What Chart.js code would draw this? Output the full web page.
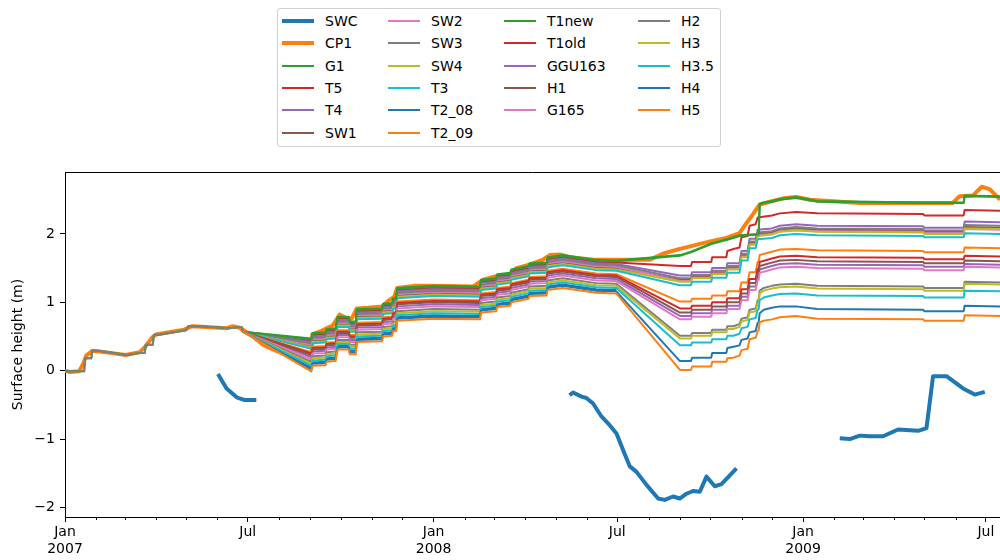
<!DOCTYPE html>
<html><head><meta charset="utf-8">
<script src="https://cdn.jsdelivr.net/npm/chart.js@4.4.1/dist/chart.umd.min.js"></script>
<style>
html,body{margin:0;padding:0;background:#fff;}
#wrap{position:relative;width:1000px;height:560px;overflow:hidden;}
#c{position:absolute;left:0;top:0;}
#legend{position:absolute;left:277px;top:8px;width:444px;height:139px;border:1px solid #d0d0d0;border-radius:3px;box-sizing:border-box;background:#fff;font-family:'DejaVu Sans';font-size:14px;color:#000;}
.item{position:absolute;height:20px;display:flex;align-items:center;white-space:nowrap;}
.item .h{display:inline-block;width:32px;margin-right:11px;}
</style></head>
<body><div id="wrap"><canvas id="c" width="1000" height="560"></canvas><div id="legend"></div></div>
<script>
// ---- labels / ticks ----
const seriesNames = ['SWC','CP1','G1','T5','T4','SW1','SW2','SW3','SW4','T3','T2_08','T2_09','T1new','T1old','GGU163','H1','G165','H2','H3','H3.5','H4','H5'];
const palette = ['#1f77b4','#ff7f0e','#2ca02c','#d62728','#9467bd','#8c564b','#e377c2','#7f7f7f','#bcbd22','#17becf'];
const xTickDays = [0,181,365,547,731,912];           // days since 2007-01-01
const xTickLabels = [['Jan','2007'],['Jul'],['Jan','2008'],['Jul'],['Jan','2009'],['Jul']];
const minorTickDays = [31,59,90,120,151,212,243,273,304,334,396,425,456,486,517,578,609,639,670,700,762,790,821,851,882];
const yTicks = [-2,-1,0,1,2];

// ---- SWC (thick blue) ----
const swcDays = [151.5,160,170,178,189.5, 340, 499.7,503.2,511.5,516.4,523,531.3,537.8,546.2,552.7,559.4,566,575.9,587.4,594,602.2,608.9,615.5,622,628.7,635.3,643.5,650.2,665, 715, 767.3,777.2,787.1,797,810.2,825,844.9,853.2,859.7,873,889.4,901,910.9];
const swcValues = [-0.05,-0.26,-0.39,-0.43,-0.43, null, -0.36,-0.32,-0.38,-0.40,-0.48,-0.67,-0.77,-0.92,-1.16,-1.40,-1.48,-1.67,-1.87,-1.89,-1.84,-1.87,-1.80,-1.76,-1.77,-1.55,-1.69,-1.66,-1.43, null, -0.99,-1.00,-0.95,-0.96,-0.96,-0.86,-0.88,-0.84,-0.08,-0.08,-0.26,-0.35,-0.31];

// ---- CP1 (thick orange) ----
const cp1Days = [0,5,14,18,21,27,45,60,74,80,86,90,106,118,126,140,160,166,172,176,186,196,203,219,232,244,245,252,259,265,272,278,284,289,300,314,320,326,329,345,365,404,414,427,440,447,460,473,480,490,500,526,546,579,592,606,625,639,655,668,675,682,688,698,711,724,738,787,847,879,886,899,908,916,926];
const cp1Values = [0.00,-0.02,-0.01,0.10,0.22,0.29,0.26,0.23,0.27,0.36,0.48,0.53,0.57,0.60,0.65,0.64,0.62,0.65,0.63,0.60,0.50,0.38,0.33,0.23,0.16,0.04,0.53,0.57,0.62,0.66,0.82,0.77,0.76,0.91,0.92,0.94,1.02,1.08,1.21,1.24,1.24,1.23,1.33,1.38,1.40,1.50,1.55,1.62,1.69,1.70,1.66,1.62,1.62,1.62,1.71,1.77,1.84,1.89,1.94,2.01,2.16,2.30,2.43,2.47,2.52,2.54,2.50,2.45,2.45,2.45,2.55,2.56,2.69,2.65,2.50];

// ---- stake series: shared day axis (full series start at day 0, others at day 176) ----
const stepDays = [0,19,20,26,27,34,61,74,79,80,87,88,94,120,122,133,163,173,175,
 176,244,
 245,258,259,268,270,281,282,288,289,314,315,324,325,328,329,365,411,412,427,428,441,442,459,460,477,478,493,526,546,
 609,620,621,640,641,655,656,662,668,670,676,678,684,686,687,688,692,700,708,724,745,850,851,890,891,926];

const G1 = [-0.01,-0.01,0.18,0.18,0.29,0.29,0.23,0.26,0.26,0.38,0.38,0.52,0.53,0.59,0.65,0.65,0.62,0.64,0.64,
 0.57,0.47,
 0.55,0.56,0.61,0.62,0.79,0.79,0.72,0.72,0.90,0.91,0.98,0.99,1.06,1.06,1.21,1.24,1.23,1.33,1.35,1.41,1.43,1.48,1.53,1.57,1.58,1.66,1.69,1.62,1.61,
 1.69,1.74,null,1.86,null,1.92,null,1.95,1.98,null,null,null,null,null,2.00,2.44,2.46,2.48,2.51,2.54,2.48,2.46,null,2.46,2.56,2.55];
const T5 = [0.57,0.44,
 0.52,0.53,0.58,0.59,0.76,0.76,0.69,0.69,0.87,0.88,0.95,0.96,1.03,1.03,1.18,1.21,1.20,1.30,1.32,1.38,1.40,1.45,1.50,1.54,1.55,1.63,1.66,1.59,1.58,
 1.53,1.53,1.59,1.59,1.66,1.66,1.75,1.78,1.80,1.95,1.97,2.12,2.14,2.24,null,null,null,2.27,2.30,2.32,2.30,2.29,2.27,2.27,2.35,2.34];
const T4 = [0.57,0.42,
 0.50,0.51,0.56,0.57,0.74,0.74,0.67,0.67,0.85,0.86,0.93,0.94,1.01,1.01,1.16,1.19,1.18,1.28,1.30,1.36,1.38,1.43,1.48,1.52,1.53,1.61,1.64,1.57,1.56,
 1.39,1.39,1.44,1.44,1.50,1.50,1.57,1.57,1.57,1.75,1.75,1.93,1.93,2.06,null,null,null,2.08,2.12,2.14,2.12,2.11,2.09,2.09,2.18,2.17];
const SW1 = [0.57,0.36,
 0.44,0.45,0.50,0.51,0.68,0.68,0.61,0.61,0.79,0.80,0.87,0.88,0.95,0.95,1.10,1.13,1.12,1.22,1.24,1.30,1.32,1.37,1.42,1.46,1.47,1.55,1.58,1.51,1.50,
 1.33,1.33,1.38,1.38,1.44,1.44,1.51,1.51,1.51,1.69,1.69,1.87,1.87,2.00,null,null,null,2.02,2.06,2.08,2.06,2.05,2.03,2.03,2.10,2.09];
const SW2 = [0.57,0.38,
 0.46,0.47,0.52,0.53,0.70,0.70,0.63,0.63,0.81,0.82,0.89,0.90,0.97,0.97,1.12,1.15,1.14,1.24,1.26,1.32,1.34,1.39,1.44,1.48,1.49,1.57,1.60,1.53,1.52,
 1.31,1.31,1.36,1.36,1.42,1.42,1.49,1.49,1.49,1.67,1.67,1.85,1.85,1.98,null,null,null,2.00,2.04,2.06,2.04,2.03,2.01,2.01,2.07,2.06];
const SW3 = [0.57,0.40,
 0.48,0.49,0.54,0.55,0.72,0.72,0.65,0.65,0.83,0.84,0.91,0.92,0.99,0.99,1.14,1.17,1.16,1.26,1.28,1.34,1.36,1.41,1.46,1.50,1.51,1.59,1.62,1.55,1.54,
 1.35,1.35,1.40,1.40,1.46,1.46,1.53,1.53,1.53,1.71,1.71,1.89,1.89,2.02,null,null,null,2.04,2.08,2.10,2.08,2.07,2.05,2.05,2.13,2.12];
const SW4 = [0.57,0.34,
 0.42,0.43,0.48,0.49,0.66,0.66,0.59,0.59,0.77,0.78,0.85,0.86,0.93,0.93,1.08,1.11,1.10,1.20,1.22,1.28,1.30,1.35,1.40,1.44,1.45,1.53,1.56,1.49,1.48,
 1.30,1.30,1.35,1.35,1.41,1.41,1.48,1.48,1.48,1.66,1.66,1.84,1.84,1.97,null,null,null,1.99,2.03,2.05,2.03,2.02,2.00,2.00,2.08,2.07];
const T3 = [0.57,0.32,
 0.40,0.41,0.46,0.47,0.64,0.64,0.57,0.57,0.75,0.76,0.83,0.84,0.91,0.91,1.06,1.09,1.08,1.18,1.20,1.26,1.28,1.33,1.38,1.42,1.43,1.51,1.54,1.47,1.46,
 1.25,1.25,1.30,1.30,1.36,1.36,1.43,1.43,1.43,1.61,1.61,1.79,1.79,1.92,null,null,null,1.94,1.98,2.00,1.98,1.97,1.95,1.95,2.01,2.00];
const T2_08 = [0.57,0.04,
 0.12,0.13,0.18,0.19,0.36,0.36,0.29,0.29,0.47,0.48,0.55,0.56,0.63,0.63,0.78,0.81,0.80,0.90,0.92,0.98,1.00,1.05,1.10,1.14,1.15,1.23,1.26,1.19,1.18];
const T2_09 = [0.57,0.27,
 0.35,0.36,0.41,0.42,0.59,0.59,0.52,0.52,0.70,0.71,0.78,0.79,0.86,0.86,1.01,1.04,1.03,1.13,1.15,1.21,1.23,1.28,1.33,1.37,1.38,1.46,1.49,1.42,1.41,
 1.01,1.01,1.05,1.05,1.10,1.10,1.16,1.16,1.16,1.29,1.29,1.44,1.44,1.59,1.59,1.69,null,1.74,1.77,1.78,1.76,1.75,1.73,1.73,1.80,1.79];
const T1new = [0.57,0.46,
 0.54,0.55,0.60,0.61,0.78,0.78,0.71,0.71,0.89,0.90,0.97,0.98,1.05,1.05,1.20,1.23,1.22,1.32,1.34,1.40,1.42,1.47,1.52,1.56,1.57,1.65,1.68,1.61,1.60,
 1.68,1.73,null,1.85,null,1.91,null,1.94,1.97,null,null,null,null,null,1.99,2.43,2.45,2.47,2.50,2.53,2.47,2.45,null,2.45,2.55,2.54];
const T1old = [0.57,0.25,
 0.33,0.34,0.39,0.40,0.57,0.57,0.50,0.50,0.68,0.69,0.76,0.77,0.84,0.84,0.99,1.02,1.01,1.11,1.13,1.19,1.21,1.26,1.31,1.35,1.36,1.44,1.47,1.40,1.39,
 0.91,0.91,0.95,0.95,1.00,1.00,1.06,1.06,1.06,1.19,1.19,1.34,1.34,1.49,1.49,1.59,null,1.64,1.67,1.68,1.66,1.65,1.63,1.63,1.68,1.67];
const GGU163 = [0.57,0.20,
 0.28,0.29,0.34,0.35,0.52,0.52,0.45,0.45,0.63,0.64,0.71,0.72,0.79,0.79,0.94,0.97,0.96,1.06,1.08,1.14,1.16,1.21,1.26,1.30,1.31,1.39,1.42,1.35,1.34,
 0.80,0.80,0.84,0.84,0.89,0.89,0.95,0.95,0.95,1.08,1.08,1.23,1.23,1.38,1.38,1.48,null,1.53,1.56,1.57,1.55,1.54,1.52,1.52,1.56,1.55];
const H1 = [0.57,0.23,
 0.31,0.32,0.37,0.38,0.55,0.55,0.48,0.48,0.66,0.67,0.74,0.75,0.82,0.82,0.97,1.00,0.99,1.09,1.11,1.17,1.19,1.24,1.29,1.33,1.34,1.42,1.45,1.38,1.37,
 0.85,0.85,0.89,0.89,0.94,0.94,1.00,1.00,1.00,1.13,1.13,1.28,1.28,1.43,1.43,1.53,null,1.58,1.61,1.62,1.60,1.59,1.57,1.57,1.61,1.60];
const G165 = [0.57,0.17,
 0.25,0.26,0.31,0.32,0.49,0.49,0.42,0.42,0.60,0.61,0.68,0.69,0.76,0.76,0.91,0.94,0.93,1.03,1.05,1.11,1.13,1.18,1.23,1.27,1.28,1.36,1.39,1.32,1.31,
 0.75,0.75,0.79,0.79,0.84,0.84,0.90,0.90,0.90,1.03,1.03,1.18,1.18,1.33,1.33,1.43,null,1.48,1.51,1.52,1.50,1.49,1.47,1.47,1.52,1.51];
const H2 = [-0.01,-0.01,0.18,0.18,0.29,0.29,0.23,0.26,0.26,0.38,0.38,0.52,0.53,0.59,0.65,0.65,0.62,0.64,0.64,
 0.57,0.13,
 0.21,0.22,0.27,0.28,0.45,0.45,0.38,0.38,0.56,0.57,0.64,0.65,0.72,0.72,0.87,0.90,0.89,0.99,1.01,1.07,1.09,1.14,1.19,1.23,1.24,1.32,1.35,1.28,1.27,
 0.51,0.51,0.55,0.55,0.60,0.60,0.65,0.65,0.68,0.76,0.78,0.89,0.91,1.03,1.04,1.17,1.21,1.24,1.26,1.27,1.24,1.23,1.21,1.21,1.30,1.29];
const H3 = [0.57,0.10,
 0.18,0.19,0.24,0.25,0.42,0.42,0.35,0.35,0.53,0.54,0.61,0.62,0.69,0.69,0.84,0.87,0.86,0.96,0.98,1.04,1.06,1.11,1.16,1.20,1.21,1.29,1.32,1.25,1.24,
 0.47,0.47,0.51,0.51,0.56,0.56,0.61,0.61,0.64,0.72,0.74,0.85,0.87,0.99,1.00,1.13,1.17,1.20,1.22,1.23,1.20,1.19,1.17,1.17,1.27,1.26];
const H3_5 = [0.57,0.07,
 0.15,0.16,0.21,0.22,0.39,0.39,0.32,0.32,0.50,0.51,0.58,0.59,0.66,0.66,0.81,0.84,0.83,0.93,0.95,1.01,1.03,1.08,1.13,1.17,1.18,1.26,1.29,1.22,1.21,
 0.37,0.37,0.41,0.41,0.46,0.46,0.51,0.51,0.54,0.62,0.64,0.75,0.77,0.89,0.90,1.03,1.07,1.10,1.12,1.13,1.10,1.09,1.07,1.07,1.17,1.16];
const H4 = [0.57,0.02,
 0.10,0.11,0.16,0.17,0.34,0.34,0.27,0.27,0.45,0.46,0.53,0.54,0.61,0.61,0.76,0.79,0.78,0.88,0.90,0.96,0.98,1.03,1.08,1.12,1.13,1.21,1.24,1.17,1.16,
 0.14,0.14,0.19,0.19,0.26,0.26,0.33,0.35,0.37,0.45,0.47,0.56,0.58,0.70,0.71,0.84,0.89,0.92,0.94,0.94,0.90,0.89,0.87,0.87,0.95,0.94];
const H5 = [0.57,-0.01,
 0.07,0.08,0.13,0.14,0.31,0.31,0.24,0.24,0.42,0.43,0.50,0.51,0.58,0.58,0.73,0.76,0.75,0.85,0.87,0.93,0.95,1.00,1.05,1.09,1.10,1.18,1.21,1.14,1.13,
 0.01,0.01,0.06,0.06,0.13,0.13,0.18,0.19,0.22,0.30,0.32,0.46,0.48,0.58,0.59,0.71,0.73,0.75,0.78,0.80,0.76,0.75,0.73,0.73,0.81,0.80];

// ---- build datasets ----
const stepValues = [G1,T5,T4,SW1,SW2,SW3,SW4,T3,T2_08,T2_09,T1new,T1old,GGU163,H1,G165,H2,H3,H3_5,H4,H5];
function pts(days, vals){ return vals.map((v,i)=>({x:days[i], y:v})); }
const lateDays = stepDays.slice(19);
const N = seriesNames.length;
const datasets = seriesNames.map((name,i)=>{
  let data, width = 2, gaps = true;
  if (i === 0) { data = pts(swcDays, swcValues); width = 4; gaps = false; }
  else if (i === 1) { data = pts(cp1Days, cp1Values); width = 4; }
  else { const v = stepValues[i-2]; data = pts(v.length === stepDays.length ? stepDays : lateDays, v); }
  return { label:name, data, borderColor:palette[i%10], backgroundColor:palette[i%10], borderWidth:width,
    pointRadius:0, fill:false, tension:0, spanGaps:gaps, order:N-i, clip:0, borderJoinStyle:'round' };
});

const FONT = 'DejaVu Sans';
Chart.defaults.font.family = FONT;
const decor = { id:'decor', afterDraw(chart){
  const ctx = chart.ctx, a = chart.chartArea, sx = chart.scales.x;
  ctx.save(); ctx.strokeStyle = '#000'; ctx.lineWidth = 1;
  ctx.beginPath();
  ctx.moveTo(a.left, Math.round(a.top)+0.5); ctx.lineTo(a.right, Math.round(a.top)+0.5);
  minorTickDays.forEach(d=>{ const px = Math.round(sx.getPixelForValue(d))+0.5; ctx.moveTo(px, a.bottom); ctx.lineTo(px, a.bottom+3); });
  ctx.stroke(); ctx.restore();
}};

new Chart(document.getElementById('c'), {
  type:'line',
  data:{datasets},
  options:{
    responsive:false, animation:false, devicePixelRatio:1,
    layout:{padding:{top:172,left:0,right:0,bottom:0}},
    plugins:{legend:{display:false}, tooltip:{enabled:false}},
    scales:{
      x:{ type:'linear', min:0, max:926,
        afterBuildTicks:s=>{ s.ticks = xTickDays.map(v=>({value:v})); },
        afterFit:s=>{ s.height = 43; },
        ticks:{ autoSkip:false, maxRotation:0, minRotation:0, color:'#000', padding:2,
          font:{family:FONT,size:14,lineHeight:1.22},
          callback:(v)=>{ const k = xTickDays.indexOf(v); return k>=0 ? xTickLabels[k] : ''; } },
        grid:{ display:true, drawOnChartArea:false, drawTicks:true, tickLength:5, tickColor:'#000', tickWidth:1 },
        border:{ display:true, color:'#000', width:1 } },
      y:{ min:-2.14, max:2.905,
        afterBuildTicks:s=>{ s.ticks = yTicks.map(v=>({value:v})); },
        afterFit:s=>{ s.width = 65; },
        ticks:{ color:'#000', padding:5, font:{family:FONT,size:14},
          callback:(v)=> (v<0 ? '\u2212'+Math.abs(v) : String(v)) },
        grid:{ display:true, drawOnChartArea:false, drawTicks:true, tickLength:5, tickColor:'#000', tickWidth:1 },
        border:{ display:true, color:'#000', width:1 },
        title:{ display:true, text:'Surface height (m)', color:'#000', font:{family:FONT,size:14}, padding:{top:10,bottom:0} } }
    }
  },
  plugins:[decor]
});

// ---- legend (matplotlib-style, 4 columns filled top-to-bottom) ----
const legendColCounts = [6,6,5,5];
const legendColX = [4,110,226,360];
const legendRowY = [12,34,56.5,79,101,123.5];
const leg = document.getElementById('legend');
let li = 0;
legendColCounts.forEach((n,c)=>{
  for (let r=0;r<n;r++){
    const ds = datasets[li++];
    const it = document.createElement('div'); it.className='item';
    it.style.left = legendColX[c]+'px'; it.style.top = (legendRowY[r]-10)+'px';
    const h = document.createElement('span'); h.className='h';
    h.style.height = ds.borderWidth+'px'; h.style.background = ds.borderColor;
    const t = document.createElement('span'); t.textContent = ds.label;
    it.appendChild(h); it.appendChild(t); leg.appendChild(it);
  }
});
</script></body></html>
